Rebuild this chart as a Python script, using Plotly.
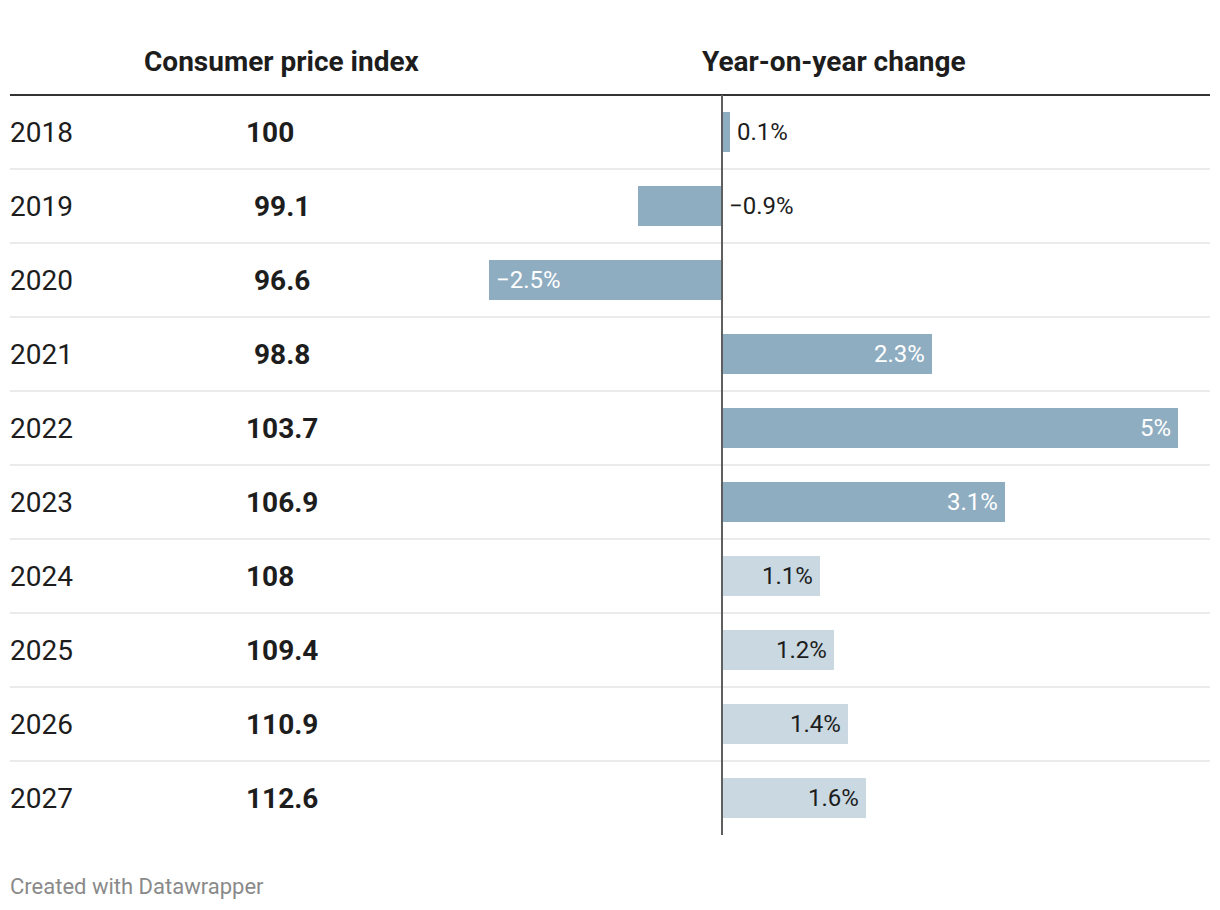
import plotly.graph_objects as go

years = ["2018", "2019", "2020", "2021", "2022", "2023", "2024", "2025", "2026", "2027"]
cpi = ["100", "99.1", "96.6", "98.8", "103.7", "106.9", "108", "109.4", "110.9", "112.6"]
yoy = [0.09, -0.92, -2.55, 2.3, 5.0, 3.1, 1.07, 1.23, 1.38, 1.58]
yoy_labels = ["0.1%", "\u22120.9%", "\u22122.5%", "2.3%", "5%", "3.1%", "1.1%", "1.2%", "1.4%", "1.6%"]
forecast = [False, False, False, False, False, False, True, True, True, True]
headers = ["Consumer price index", "Year-on-year change"]
footer = "Created with Datawrapper"

W, H = 1220, 910
DARK = "#8fadc1"
LIGHT = "#c9d8e1"
TXT = "#1d1d1d"
FONT = "Roboto"

rows = list(range(len(years)))
row_px, row0_px = 74.0, 132.0
zero_px, px_per_unit = 722.0, 91.2

x0 = -zero_px / px_per_unit
x1 = x0 + W / px_per_unit
ytop = -row0_px / row_px
ybot = (H - row0_px) / row_px

fig = go.Figure()
fig.add_trace(go.Bar(
    x=yoy, y=rows, orientation="h",
    width=40 / row_px,
    marker=dict(color=[LIGHT if f else DARK for f in forecast], line=dict(width=0)),
    hoverinfo="skip", showlegend=False,
))

ann = []
fs = 28
for i, (yr, v) in enumerate(zip(years, cpi)):
    ann.append(dict(x=10 / W, xref="paper", y=i, yref="y", text=yr, showarrow=False,
                    xanchor="left", yanchor="middle", xshift=-2,
                    font=dict(family=FONT, size=fs, color=TXT)))
    if "." in v:
        ann.append(dict(x=281.5 / W, xref="paper", y=i, yref="y", text="<b>" + v + "</b>", showarrow=False,
                        xanchor="center", yanchor="middle",
                        font=dict(family=FONT, size=fs, color=TXT)))
    else:
        ann.append(dict(x=246 / W, xref="paper", y=i, yref="y", text="<b>" + v + "</b>", showarrow=False,
                        xanchor="left", yanchor="middle", xshift=-2,
                        font=dict(family=FONT, size=fs, color=TXT)))

lfs = 24
for i, (v, lab, f) in enumerate(zip(yoy, yoy_labels, forecast)):
    if abs(v) < 1.5:
        if v >= 0 and not f:
            ann.append(dict(x=v, xref="x", y=i, yref="y", text=lab, showarrow=False, xanchor="left",
                            xshift=5, font=dict(family=FONT, size=lfs, color=TXT)))
        elif v < 0:
            ann.append(dict(x=0, xref="x", y=i, yref="y", text=lab, showarrow=False, xanchor="left",
                            xshift=5, font=dict(family=FONT, size=lfs, color=TXT)))
        else:
            ann.append(dict(x=v, xref="x", y=i, yref="y", text=lab, showarrow=False, xanchor="right",
                            xshift=-5, font=dict(family=FONT, size=lfs, color=TXT)))
    else:
        col = TXT if f else "white"
        if v >= 0:
            ann.append(dict(x=v, xref="x", y=i, yref="y", text=lab, showarrow=False, xanchor="right",
                            xshift=-5, font=dict(family=FONT, size=lfs, color=col)))
        else:
            ann.append(dict(x=v, xref="x", y=i, yref="y", text=lab, showarrow=False, xanchor="left",
                            xshift=5, font=dict(family=FONT, size=lfs, color=col)))

ann.append(dict(x=281.5 / W, xref="paper", y=-0.95, yref="y", text="<b>" + headers[0] + "</b>",
                showarrow=False, xanchor="center", yanchor="middle", font=dict(family=FONT, size=fs, color=TXT)))
ann.append(dict(x=0, xref="x", y=-0.95, yref="y", text="<b>" + headers[1] + "</b>", xshift=111.5,
                showarrow=False, xanchor="center", yanchor="middle", font=dict(family=FONT, size=fs, color=TXT)))
ann.append(dict(x=10 / W, xref="paper", y=1 - 886 / H, yref="paper", text=footer, showarrow=False,
                xanchor="left", yanchor="middle", xshift=-2, font=dict(family=FONT, size=22, color="#8a8a8a")))

shapes = []
for i in rows[:-1]:
    shapes.append(dict(type="line", xref="paper", yref="y", x0=10 / W, x1=1210 / W, y0=i + 0.5, y1=i + 0.5,
                       line=dict(color="#ebebeb", width=2), layer="below"))
shapes.append(dict(type="line", xref="paper", yref="y", x0=10 / W, x1=1210 / W, y0=-0.5, y1=-0.5,
                   line=dict(color="#333333", width=2), layer="above"))
shapes.append(dict(type="line", xref="x", yref="y", x0=0, x1=0, y0=-0.5, y1=len(rows) - 0.5,
                   line=dict(color="#5f5f5f", width=2), layer="above"))

fig.update_layout(
    width=W, height=H, margin=dict(l=0, r=0, t=0, b=0),
    paper_bgcolor="white", plot_bgcolor="white",
    xaxis=dict(range=[x0, x1], visible=False, fixedrange=True),
    yaxis=dict(range=[ybot, ytop], visible=False, fixedrange=True),
    annotations=ann, shapes=shapes, bargap=0,
    font=dict(family=FONT),
)
fig.write_html("out.html", config={"displayModeBar": False},
               post_script="document.body.style.margin='0';document.body.style.padding='0';")
